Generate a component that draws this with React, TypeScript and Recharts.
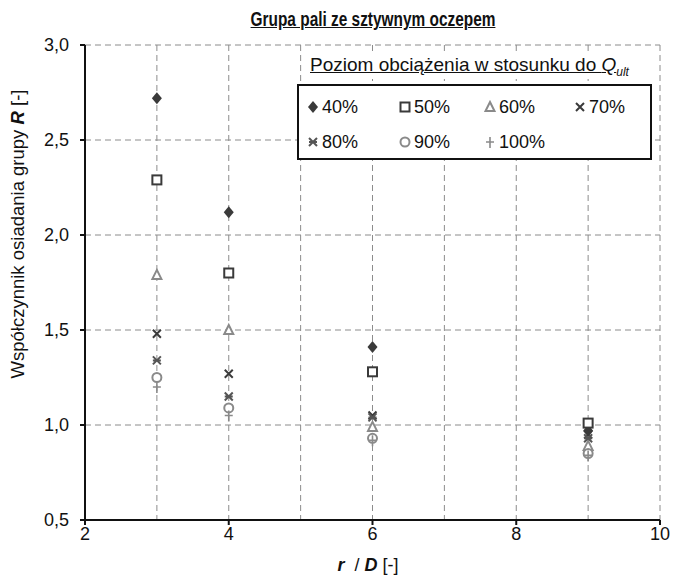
import { ScatterChart, Scatter, XAxis, YAxis, CartesianGrid } from "recharts";

// r/D spacing and group settlement ratio R for each load level (fraction of Q_ult)
const ratios = [3, 4, 6, 9];
const r40 = [2.72, 2.12, 1.41, 0.97];
const r50 = [2.29, 1.8, 1.28, 1.01];
const r60 = [1.79, 1.5, 0.99, 0.89];
const r70 = [1.48, 1.27, 1.05, 0.95];
const r80 = [1.34, 1.15, 1.04, 0.93];
const r90 = [1.25, 1.09, 0.93, 0.85];
const r100 = [1.2, 1.05, 0.92, 0.84];

const xTicks = [2, 4, 6, 8, 10];
const yTicks = [0.5, 1, 1.5, 2, 2.5, 3];
const gridX = [2, 3, 4, 5, 6, 7, 8, 9, 10];

const FONT = "'Liberation Sans', Arial, sans-serif";
const DARK = "#3a3a3a";
const GREY = "#8a8a8a";

type Kind = "diamond" | "square" | "triangle" | "cross" | "star" | "circle" | "plus";

const series: { name: string; values: number[]; kind: Kind; color: string }[] = [
  { name: "40%", values: r40, kind: "diamond", color: DARK },
  { name: "50%", values: r50, kind: "square", color: DARK },
  { name: "60%", values: r60, kind: "triangle", color: GREY },
  { name: "70%", values: r70, kind: "cross", color: DARK },
  { name: "80%", values: r80, kind: "star", color: "#555" },
  { name: "90%", values: r90, kind: "circle", color: GREY },
  { name: "100%", values: r100, kind: "plus", color: GREY },
];

const toPoints = (values: number[]) => ratios.map((x, i) => ({ x, y: values[i] }));

const Marker = ({ cx, cy, kind, color }: { cx: number; cy: number; kind: Kind; color: string }) => {
  switch (kind) {
    case "diamond":
      return <path d={`M${cx},${cy - 6} L${cx + 5},${cy} L${cx},${cy + 6} L${cx - 5},${cy} Z`} fill={color} />;
    case "square":
      return <rect x={cx - 4.5} y={cy - 4.5} width={9} height={9} fill="#fff" stroke={color} strokeWidth={2} />;
    case "triangle":
      return <path d={`M${cx},${cy - 5} L${cx + 4.5},${cy + 4} L${cx - 4.5},${cy + 4} Z`} fill="#fff" stroke={color} strokeWidth={2} />;
    case "cross":
      return (
        <path d={`M${cx - 4},${cy - 4} L${cx + 4},${cy + 4} M${cx + 4},${cy - 4} L${cx - 4},${cy + 4}`} stroke={color} strokeWidth={2} />
      );
    case "star":
      return (
        <path
          d={`M${cx - 4},${cy - 4} L${cx + 4},${cy + 4} M${cx + 4},${cy - 4} L${cx - 4},${cy + 4} M${cx - 4},${cy} L${cx + 4},${cy}`}
          stroke={color}
          strokeWidth={2}
        />
      );
    case "circle":
      return <circle cx={cx} cy={cy} r={4.5} fill="#fff" stroke={color} strokeWidth={2} />;
    case "plus":
      return <path d={`M${cx - 4},${cy} L${cx + 4},${cy} M${cx},${cy - 5} L${cx},${cy + 6}`} stroke={color} strokeWidth={1.6} />;
  }
  return null;
};

const LegendItem = ({ name, kind, color, left, top }: { name: string; kind: Kind; color: string; left: number; top: number }) => (
  <div style={{ position: "absolute", left, top, display: "flex", alignItems: "center", lineHeight: "22px" }}>
    <svg width={14} height={14}>
      <Marker cx={7} cy={7} kind={kind} color={color} />
    </svg>
    <span style={{ fontSize: 18, marginLeft: 2 }}>{name}</span>
  </div>
);

const legendPos = [
  [7, 10], [99, 10], [184, 10], [274, 10],
  [7, 45], [99, 45], [184, 45],
];

const App = () => {
  return (
    <div style={{ position: "absolute", left: 0, top: 0, width: 676, height: 583, background: "#fff", fontFamily: FONT, color: "#111" }}>
      <ScatterChart width={676} height={583} margin={{ top: 45, right: 16, bottom: 31, left: 20 }}>
        <CartesianGrid stroke="#8c8c8c" strokeDasharray="6 4" verticalValues={gridX} horizontalValues={yTicks} />
        <XAxis
          type="number"
          dataKey="x"
          domain={[2, 10]}
          ticks={xTicks}
          height={32}
          stroke="#111"
          strokeWidth={2}
          tick={{ fill: "#111", fontSize: 18, fontFamily: FONT }}
          tickSize={5}
        />
        <YAxis
          type="number"
          dataKey="y"
          domain={[0.5, 3]}
          ticks={yTicks}
          width={65}
          stroke="#111"
          strokeWidth={2}
          tick={{ fill: "#111", fontSize: 18, fontFamily: FONT }}
          tickFormatter={(v: number) => v.toFixed(1).replace(".", ",")}
          tickSize={5}
          tickMargin={11}
        />
        {series.map((s) => (
          <Scatter
            key={s.name}
            name={s.name}
            data={toPoints(s.values)}
            isAnimationActive={false}
            shape={(p: any) => <Marker cx={p.cx} cy={p.cy} kind={s.kind} color={s.color} />}
          />
        ))}
      </ScatterChart>

      <div
        style={{
          position: "absolute",
          left: 373,
          top: 8,
          transform: "translateX(-50%) scaleX(0.79)",
          fontSize: 19.5,
          fontWeight: "bold",
          textDecoration: "underline",
          whiteSpace: "nowrap",
        }}
      >
        Grupa pali ze sztywnym oczepem
      </div>

      <div style={{ position: "absolute", left: 310, top: 54, fontSize: 19, textDecoration: "underline", background: "#fff", whiteSpace: "nowrap" }}>
        Poziom obciążenia w stosunku do <i>Q</i>
        <sub style={{ fontSize: 12, fontStyle: "italic" }}>ult</sub>
      </div>

      <div style={{ position: "absolute", left: 297, top: 84, width: 351, height: 72, border: "2px solid #111", background: "#fff" }}>
        {series.map((s, i) => (
          <LegendItem key={s.name} name={s.name} kind={s.kind} color={s.color} left={legendPos[i][0]} top={legendPos[i][1]} />
        ))}
      </div>

      <div
        style={{
          position: "absolute",
          left: 18,
          top: 234,
          transform: "translate(-50%, -50%) rotate(-90deg)",
          fontSize: 18.5,
          whiteSpace: "nowrap",
        }}
      >
        Współczynnik osiadania grupy <b><i>R</i></b> [-]
      </div>

      <div style={{ position: "absolute", left: 0, width: 736, top: 555, textAlign: "center", fontSize: 18 }}>
        <b><i>r</i></b>&nbsp; / <b><i>D</i></b> [-]
      </div>
    </div>
  );
};

export default App;
